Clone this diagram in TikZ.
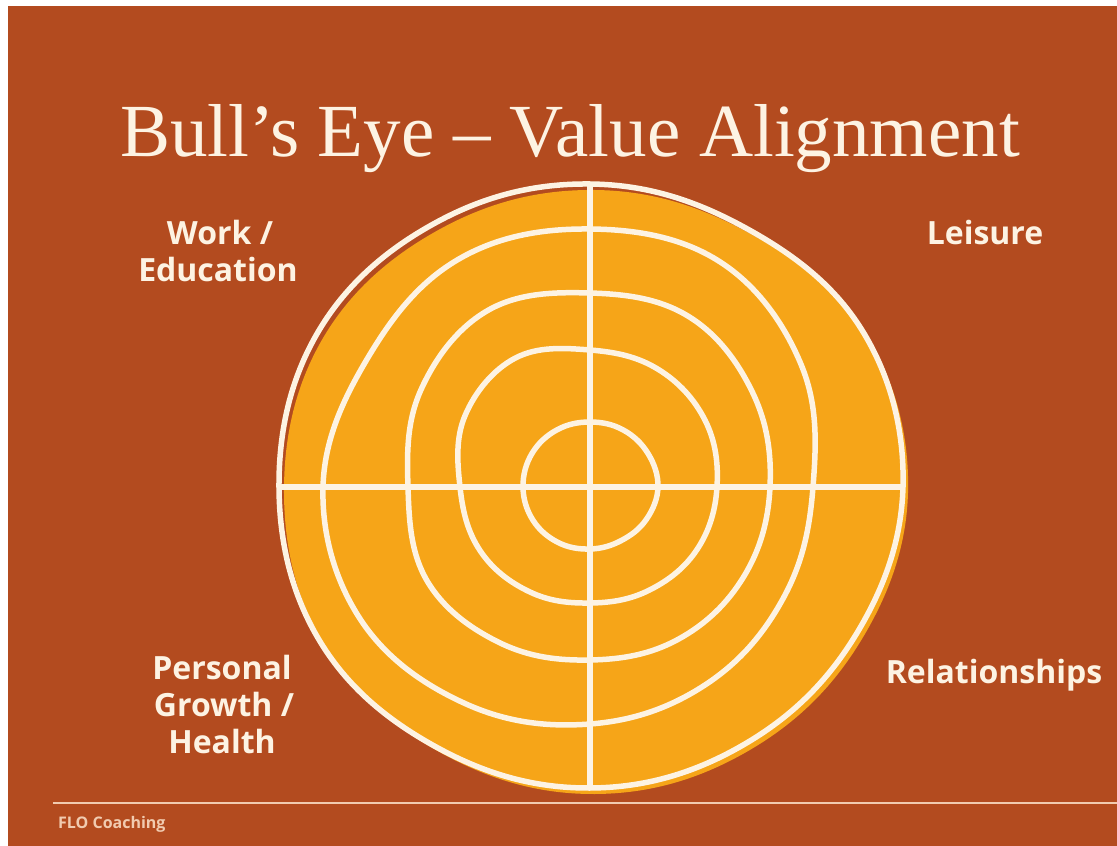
\documentclass[tikz,border=0pt]{standalone}
\usepackage{fontspec}
\setmainfont{Liberation Serif}
\newfontfamily\labelfont{Open Sans}
\definecolor{rust}{HTML}{B34B1F}
\definecolor{gold}{HTML}{F6A518}
\definecolor{cream}{HTML}{FDF3E3}
\definecolor{peach}{HTML}{F1CBB0}
\begin{document}
\begin{tikzpicture}[x=1pt,y=1pt,
  ring/.style={draw=cream,line width=5.5pt},
  area/.style={text=cream,anchor=base,font=\labelfont\bfseries\fontsize{32}{37}\selectfont}]
\fill[white] (-590,-359) rectangle (527,487);
\fill[rust] (-582,-359) rectangle (527,481);
\useasboundingbox (-590,-359) rectangle (527,487);
\node[text=cream,anchor=base,font=\fontsize{75}{80}\selectfont] (title) at (-20,330) {Bull’s Eye – Value Alignment};
\fill[gold,shift={(5,-6)}] plot[smooth cycle,tension=0.65] coordinates {(0:313) (30:314) (60:302) (90:303) (120:306) (150:313) (180:311) (210:311) (240:302) (270:301) (300:300) (330:304)};
\draw[ring] plot[smooth cycle,tension=0.65] coordinates {(0:68) (30:67) (60:66) (90:65) (120:66) (150:67) (180:67) (210:66) (240:64) (270:62) (300:62) (330:65)};
\draw[ring] plot[smooth cycle,tension=0.65] coordinates {(0:127) (30:133) (60:136) (90:137) (120:149) (150:144) (180:130) (210:127) (240:121) (270:116) (300:119) (330:124)};
\draw[ring] plot[smooth cycle,tension=0.65] coordinates {(0:180) (30:188) (60:197) (90:194) (120:204) (150:195) (180:182) (210:188) (240:180) (270:173) (300:176) (330:178)};
\draw[ring] plot[smooth cycle,tension=0.65] coordinates {(0:223) (30:244) (60:260) (90:258) (120:263) (150:257) (180:267) (210:265) (240:250) (270:237) (300:229) (330:223)};
\coordinate (top) at (90:303);
\coordinate (bot) at (270:301);
\coordinate (lft) at (180:311);
\coordinate (rgt) at (0:313);
\draw[ring] (top) -- (bot);
\draw[ring] (lft) -- (rgt);
\draw[ring] plot[smooth cycle,tension=0.65] coordinates {(0:313) (30:314) (60:302) (90:303) (120:306) (150:313) (180:311) (210:311) (240:302) (270:301) (300:300) (330:304)};
\node[area] (work) at (-370,242) {Work /};
\node[area] (edu) at (-372,205) {Education};
\node[area] (leis) at (395,242) {Leisure};
\node[area] (pers) at (-368,-192) {Personal};
\node[area] (grow) at (-366,-229) {Growth /};
\node[area] (heal) at (-368,-266) {Health};
\node[area] (rel) at (404,-196) {Relationships};
\coordinate (fl) at (-537,-316);
\coordinate (fr) at (527,-316);
\draw[peach,line width=2.5pt] (fl) -- (fr);
\node[text=peach,anchor=base west,inner sep=0pt,font=\labelfont\bfseries\fontsize{16}{18}\selectfont] (brand) at (-532,-341) {FLO Coaching};
\end{tikzpicture}
\end{document}
